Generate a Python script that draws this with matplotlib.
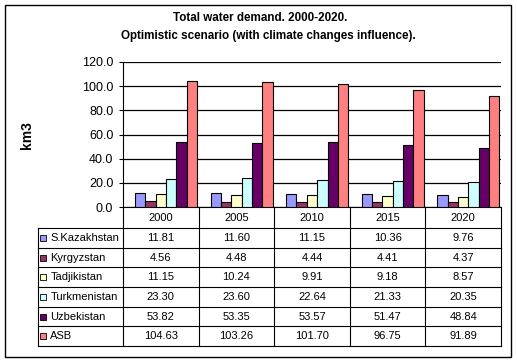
import matplotlib
matplotlib.use("Agg")
import matplotlib.pyplot as plt
from matplotlib.patches import Rectangle
import numpy as np

plt.rcParams['font.family'] = ['Liberation Sans', 'DejaVu Sans']

# data
years = ["2000", "2005", "2010", "2015", "2020"]
regions = ["S.Kazakhstan", "Kyrgyzstan", "Tadjikistan", "Turkmenistan", "Uzbekistan", "ASB"]
s_kazakhstan = [11.81, 11.60, 11.15, 10.36, 9.76]
kyrgyzstan = [4.56, 4.48, 4.44, 4.41, 4.37]
tadjikistan = [11.15, 10.24, 9.91, 9.18, 8.57]
turkmenistan = [23.30, 23.60, 22.64, 21.33, 20.35]
uzbekistan = [53.82, 53.35, 53.57, 51.47, 48.84]
asb = [104.63, 103.26, 101.70, 96.75, 91.89]
series = [s_kazakhstan, kyrgyzstan, tadjikistan, turkmenistan, uzbekistan, asb]
colors = ["#9999FF", "#993366", "#FFFFCC", "#CCFFFF", "#660066", "#FF8080"]

W, H = 517, 363
fig = plt.figure(figsize=(W / 100, H / 100), dpi=100)


def rect(x0, y0, x1, y1):
    # pixel box -> figure fraction
    return [x0 / W, 1 - y1 / H, (x1 - x0) / W, (y1 - y0) / H]


# outer frame
fig.patches.append(Rectangle((5 / W, 1 - 357 / H), 506 / W, 352 / H,
                             transform=fig.transFigure, fill=False,
                             edgecolor="black", lw=1.0))

fig.text(260 / W, 1 - 18 / H, "Total water demand. 2000-2020.",
         ha="center", va="center", fontsize=8.4, fontweight="bold")
fig.text(268 / W, 1 - 36.5 / H, "Optimistic scenario (with climate changes influence).",
         ha="center", va="center", fontsize=8.4, fontweight="bold")
fig.text(27 / W, 1 - 135 / H, "km3", rotation=90, ha="center", va="center",
         fontsize=10, fontweight="bold")

# bar chart
ax = fig.add_axes(rect(123, 62, 501, 207))
x = np.arange(len(years))
w = 0.137
for i, (vals, c) in enumerate(zip(series, colors)):
    ax.bar(x + (i - 2.5) * w, vals, width=w, align="edge", color=c,
           edgecolor="black", linewidth=0.8, zorder=3)

ax.set_xlim(-0.5, 4.5)
ax.set_ylim(0, 120)
ax.set_yticks(np.arange(0, 121, 20))
ax.set_yticklabels(["%.1f" % v for v in np.arange(0, 121, 20)], fontsize=9)
ax.set_xticks([])
ax.yaxis.grid(True, color="black", lw=0.9, zorder=0)
ax.tick_params(axis="y", length=3, width=0.8, pad=4)
for s in ["top", "right"]:
    ax.spines[s].set_visible(False)
ax.spines["left"].set_linewidth(0.8)
ax.spines["bottom"].set_linewidth(0.8)

# data table
tax = fig.add_axes(rect(38, 207, 501, 346))
header_h = 1.07
lab_left = -1.625
tax.set_xlim(lab_left, 4.5)
tax.set_ylim(header_h + 6, 0)
tax.axis("off")
lw = 0.8
for xe in np.arange(-0.5, 4.6, 1):
    tax.plot([xe, xe], [0, header_h + 6], color="black", lw=lw, clip_on=False)
tax.plot([lab_left, lab_left], [header_h, header_h + 6], color="black", lw=lw, clip_on=False)
for r in range(7):
    tax.plot([lab_left, 4.5], [header_h + r, header_h + r], color="black", lw=lw, clip_on=False)

for j, yr in enumerate(years):
    tax.text(j, header_h / 2, yr, ha="center", va="center", fontsize=8)
for r, (name, vals, c) in enumerate(zip(regions, series, colors)):
    yc = header_h + r + 0.5
    tax.plot([-1.565], [yc], marker="s", markersize=4.5, markerfacecolor=c,
             markeredgecolor="black", markeredgewidth=0.6, clip_on=False)
    tax.text(-1.46, yc, name, ha="left", va="center", fontsize=8)
    for j, v in enumerate(vals):
        tax.text(j, yc, "%.2f" % v, ha="center", va="center", fontsize=8)

fig.savefig("out.png", dpi=100)
